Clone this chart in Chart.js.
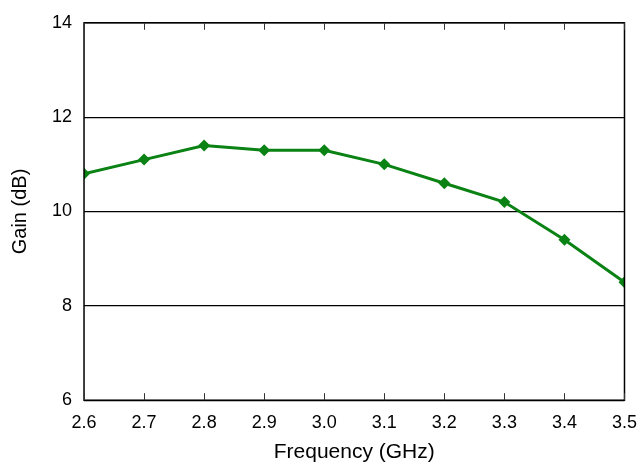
<!DOCTYPE html>
<html>
<head>
<meta charset="utf-8">
<script src="https://cdn.jsdelivr.net/npm/chart.js@4.4.0/dist/chart.umd.min.js"></script>
<style>
    html, body { margin: 0; padding: 0; background: #fff; }
    #wrap { width: 641px; height: 465px; position: relative; }
</style>
</head>
<body>
<div id="wrap"><canvas id="chart"></canvas></div>
<script>
// Data
const frequencies = [2.6, 2.7, 2.8, 2.9, 3.0, 3.1, 3.2, 3.3, 3.4, 3.5];
const gainValues = [10.8, 11.1, 11.4, 11.3, 11.3, 11.0, 10.6, 10.2, 9.4, 8.5];
const xTicks = [2.6, 2.7, 2.8, 2.9, 3.0, 3.1, 3.2, 3.3, 3.4, 3.5];
const yTicks = [6, 8, 10, 12, 14];

const points = frequencies.map((f, i) => ({ x: f, y: gainValues[i] }));

// Frame with inward tick marks, like the original plot
const framePlugin = {
    id: 'frame',
    afterDatasetsDraw(chart) {
        const { ctx, chartArea: a, scales } = chart;
        ctx.save();
        ctx.strokeStyle = '#000';
        ctx.lineWidth = 1.5;
        ctx.strokeRect(a.left, a.top, a.right - a.left, a.bottom - a.top);
        ctx.lineWidth = 1;
        ctx.strokeStyle = '#333';
        xTicks.forEach(v => {
            const px = Math.round(scales.x.getPixelForValue(v)) + 0.5;
            ctx.beginPath();
            ctx.moveTo(px, a.bottom);
            ctx.lineTo(px, a.bottom - 7);
            ctx.moveTo(px, a.top);
            ctx.lineTo(px, a.top + 7);
            ctx.stroke();
        });
        ctx.restore();
    }
};

new Chart(document.getElementById('chart'), {
    type: 'line',
    data: {
        datasets: [{
            data: points,
            borderColor: '#0a8214',
            backgroundColor: '#0a8214',
            borderWidth: 3,
            pointStyle: 'rectRot',
            pointRadius: 6,
            pointBorderWidth: 0,
            tension: 0,
            fill: false
        }]
    },
    options: {
        responsive: true,
        maintainAspectRatio: false,
        animation: false,
        layout: { padding: { top: 8, right: 11, left: 4, bottom: 0 } },
        plugins: {
            legend: { display: false },
            tooltip: { enabled: false }
        },
        scales: {
            x: {
                type: 'linear',
                min: 2.6,
                max: 3.5,
                afterBuildTicks: scale => { scale.ticks = xTicks.map(v => ({ value: v })); },
                ticks: {
                    color: '#000',
                    font: { family: 'Liberation Sans, Arial', size: 18 },
                    padding: 4,
                    maxRotation: 0,
                    callback: v => v.toFixed(1)
                },
                grid: { display: false },
                border: { display: false },
                title: {
                    display: true,
                    text: 'Frequency (GHz)',
                    color: '#000',
                    font: { family: 'Liberation Sans, Arial', size: 21 },
                    padding: { top: 2, bottom: 0 }
                }
            },
            y: {
                min: 6,
                max: 14,
                afterBuildTicks: scale => { scale.ticks = yTicks.map(v => ({ value: v })); },
                ticks: {
                    color: '#000',
                    font: { family: 'Liberation Sans, Arial', size: 18 },
                    padding: 12
                },
                grid: {
                    color: '#000',
                    lineWidth: 1.2,
                    drawTicks: false
                },
                border: { display: false },
                title: {
                    display: true,
                    text: 'Gain (dB)',
                    color: '#000',
                    font: { family: 'Liberation Sans, Arial', size: 20 },
                    padding: { bottom: 8 }
                }
            }
        }
    },
    plugins: [framePlugin]
});
</script>
</body>
</html>
